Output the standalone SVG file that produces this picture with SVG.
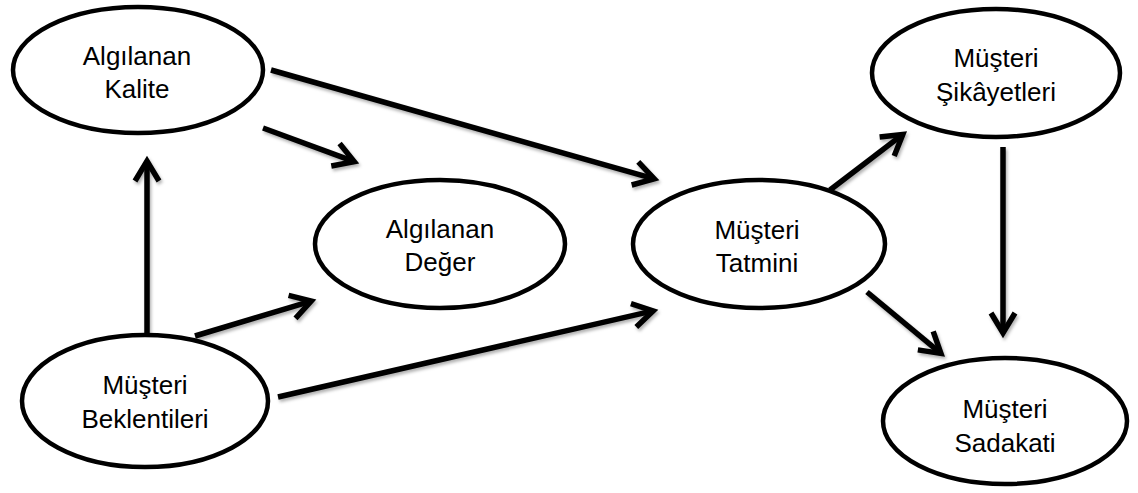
<svg xmlns="http://www.w3.org/2000/svg" width="1138" height="493" viewBox="0 0 1138 493">
  <defs>
    <style>
      .node ellipse { fill: #ffffff; stroke: #000000; stroke-width: 4.5; }
      .node text { font-family: "Liberation Sans", Arial, sans-serif; font-size: 26px; fill: #000000; text-anchor: middle; }
      .edge { stroke: #000000; stroke-width: 5.5; fill: none; marker-end: url(#head); }
    </style>
    <!-- open V arrowhead -->
    <marker id="head" markerUnits="userSpaceOnUse" viewBox="-26 -16 30 32" markerWidth="30" markerHeight="32" refX="0" refY="0" orient="auto" overflow="visible">
      <path d="M-20,-12 L0,0 L-20,12" fill="none" stroke="#000000" stroke-width="5.5" stroke-linejoin="miter"/>
    </marker>
    <filter id="shadow" x="-20%" y="-20%" width="140%" height="140%">
      <feDropShadow dx="1.5" dy="2.5" stdDeviation="1.5" flood-color="#000000" flood-opacity="0.3"/>
    </filter>
  </defs>

  <rect width="1138" height="493" fill="#ffffff"/>

  <!-- connectors -->
  <g id="connectors" filter="url(#shadow)">
    <line class="edge" x1="147" y1="335" x2="147" y2="161"/>
    <line class="edge" x1="263" y1="128" x2="354.2" y2="161.6"/>
    <line class="edge" x1="271" y1="70" x2="654.2" y2="178.9"/>
    <line class="edge" x1="195" y1="336" x2="311.2" y2="301.1"/>
    <line class="edge" x1="278" y1="397" x2="653.1" y2="310.9"/>
    <line class="edge" x1="830" y1="190" x2="902.8" y2="134.4"/>
    <line class="edge" x1="1003" y1="147" x2="1003" y2="333"/>
    <line class="edge" x1="867" y1="292" x2="940.9" y2="353.4"/>
  </g>

  <!-- nodes -->
  <g id="algilanan-kalite" class="node">
    <ellipse cx="138" cy="70" rx="125" ry="63"/>
    <text x="137" y="65">Algılanan</text>
    <text x="137" y="98">Kalite</text>
  </g>
  <g id="algilanan-deger" class="node">
    <ellipse cx="440" cy="244" rx="125" ry="64"/>
    <text x="440" y="238">Algılanan</text>
    <text x="440" y="271">Değer</text>
  </g>
  <g id="musteri-tatmini" class="node">
    <ellipse cx="759" cy="244" rx="126" ry="64"/>
    <text x="757" y="239">Müşteri</text>
    <text x="757" y="272">Tatmini</text>
  </g>
  <g id="musteri-sikayetleri" class="node">
    <ellipse cx="996" cy="73" rx="124" ry="64"/>
    <text x="996" y="67">Müşteri</text>
    <text x="996" y="101">Şikâyetleri</text>
  </g>
  <g id="musteri-sadakati" class="node">
    <ellipse cx="1005" cy="421" rx="122" ry="63"/>
    <text x="1005" y="418">Müşteri</text>
    <text x="1005" y="452">Sadakati</text>
  </g>
  <g id="musteri-beklentileri" class="node">
    <ellipse cx="145" cy="401" rx="123" ry="66"/>
    <text x="145" y="394">Müşteri</text>
    <text x="145" y="428">Beklentileri</text>
  </g>
</svg>
